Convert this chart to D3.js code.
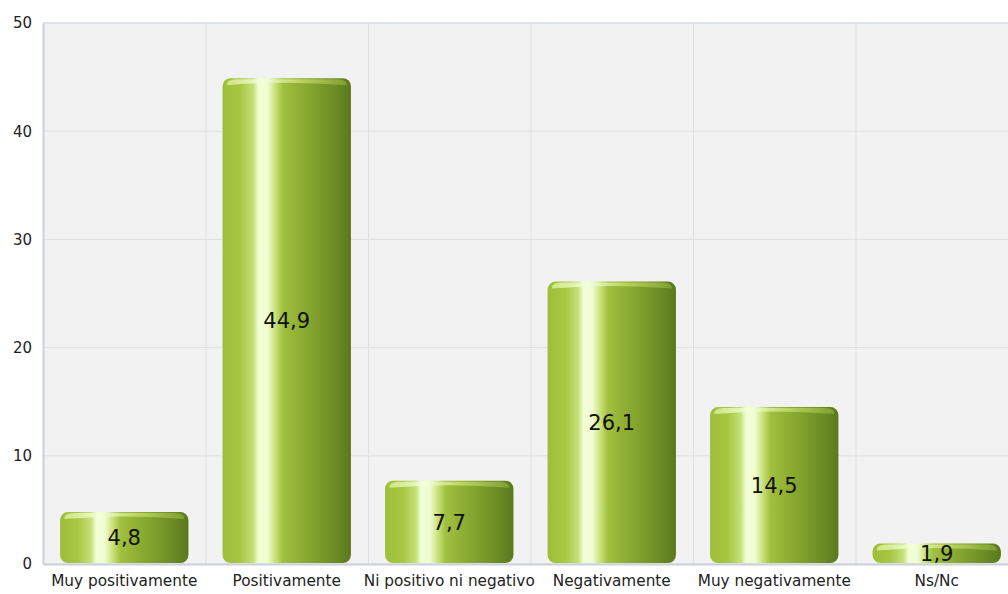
<!DOCTYPE html>
<html>
<head>
<meta charset="utf-8">
<script src="https://cdn.jsdelivr.net/npm/d3@7"></script>
<style>
  body { margin: 0; background: #fff; overflow: hidden; }
  text { font-family: "DejaVu Sans", Verdana, sans-serif; }
</style>
</head>
<body>
<svg id="draw"></svg>
<script>
// data
var categories = ["Muy positivamente", "Positivamente", "Ni positivo ni negativo", "Negativamente", "Muy negativamente", "Ns/Nc"];
var values = [4.8, 44.9, 7.7, 26.1, 14.5, 1.9];
var yTicks = [0, 10, 20, 30, 40, 50];

var margin = {top: 23, right: -10, bottom: 30, left: 43};
var width = 1008 - margin.left - margin.right;
var height = 594 - margin.top - margin.bottom;

var svg = d3.select("#draw")
  .attr("width", 1008)
  .attr("height", 594);

var defs = svg.append("defs");
var grad = defs.append("linearGradient").attr("id", "barGrad")
  .attr("x1", "0%").attr("x2", "100%").attr("y1", "0%").attr("y2", "0%");
[[0, "#9dbf38"], [0.14, "#a8c743"], [0.24, "#c6e07a"], [0.28, "#f2ffd6"], [0.35, "#f0fcd0"], [0.42, "#c4dc70"], [0.47, "#a2c040"], [0.65, "#88a930"], [0.85, "#6f8f26"], [1, "#5a791d"]]
  .forEach(function(s) {
    grad.append("stop").attr("offset", s[0]).attr("stop-color", s[1]);
  });

var capGrad = defs.append("linearGradient").attr("id", "capGrad")
  .attr("x1", "0%").attr("x2", "100%").attr("y1", "0%").attr("y2", "0%");
[[0, "#d6ec90"], [0.3, "#f6ffe0"], [0.6, "#c4dc6a"], [1, "#84a434"]]
  .forEach(function(s) {
    capGrad.append("stop").attr("offset", s[0]).attr("stop-color", s[1]);
  });

var g = svg.append("g")
  .attr("transform", "translate(" + margin.left + "," + margin.top + ")");

var xScale = d3.scaleBand()
  .domain(categories)
  .range([0, width])
  .paddingInner(0.21)
  .paddingOuter(0.105);

var yScale = d3.scaleLinear()
  .domain([0, 50])
  .range([height, 0]);

// plot background
g.append("rect")
  .attr("width", width)
  .attr("height", height)
  .attr("fill", "#f2f2f2");

// horizontal grid
g.selectAll(".hgrid")
  .data(yTicks)
  .enter().append("line")
  .attr("x1", 0).attr("x2", width)
  .attr("y1", function(d) { return yScale(d); })
  .attr("y2", function(d) { return yScale(d); })
  .attr("stroke", function(d) { return d == 50 ? "#dde1e8" : "#e0e0e0"; })
  .attr("stroke-width", function(d) { return d == 50 ? 2 : 1; });

// vertical grid between categories
var step = xScale.step();
g.selectAll(".vgrid")
  .data(categories.slice(1))
  .enter().append("line")
  .attr("x1", function(d) { return xScale(d) - step * 0.105 + 0.5; })
  .attr("x2", function(d) { return xScale(d) - step * 0.105 + 0.5; })
  .attr("y1", 0).attr("y2", height)
  .attr("stroke", "#e0e0e0");

// axes
var yAxis = g.append("g")
  .call(d3.axisLeft(yScale).tickValues(yTicks).tickSize(0).tickPadding(11));
yAxis.select(".domain").attr("stroke", "#c9d1dc").attr("stroke-width", 2);
yAxis.selectAll("text").attr("font-size", 15).attr("fill", "#222")
  .attr("font-family", "DejaVu Sans, Verdana, sans-serif");

var xAxis = g.append("g")
  .attr("transform", "translate(0," + height + ")")
  .call(d3.axisBottom(xScale).tickSize(0).tickPadding(11));
xAxis.select(".domain").attr("stroke", "#c9d1dc").attr("stroke-width", 2);
xAxis.selectAll("text").attr("font-size", 15.3).attr("fill", "#222")
  .attr("font-family", "DejaVu Sans, Verdana, sans-serif");

// bars
var bars = g.selectAll(".bar")
  .data(values)
  .enter().append("g")
  .attr("class", "bar");

bars.append("rect")
  .attr("x", function(d, i) { return xScale(categories[i]); })
  .attr("y", function(d) { return yScale(d); })
  .attr("width", xScale.bandwidth())
  .attr("height", function(d) { return height - yScale(d) - 1; })
  .attr("rx", 8).attr("ry", 8)
  .attr("fill", "url(#barGrad)");

// top highlight cap
bars.append("path")
  .attr("d", function(d, i) {
    var x0 = xScale(categories[i]) + 4;
    var w = xScale.bandwidth() - 8;
    var y0 = yScale(d) + 1;
    return "M" + x0 + "," + (y0 + 6) + " Q" + x0 + "," + y0 + " " + (x0 + 10) + "," + y0 +
      " L" + (x0 + w - 10) + "," + y0 + " Q" + (x0 + w) + "," + y0 + " " + (x0 + w) + "," + (y0 + 6) +
      " Q" + (x0 + w / 2) + "," + (y0 + 1) + " " + x0 + "," + (y0 + 6) + "Z";
  })
  .attr("fill", "url(#capGrad)")
  .attr("opacity", 0.85);

// value labels
bars.append("text")
  .attr("x", function(d, i) { return xScale(categories[i]) + xScale.bandwidth() / 2; })
  .attr("y", function(d) { return (yScale(d) + height) / 2; })
  .attr("dy", "0.35em")
  .attr("text-anchor", "middle")
  .attr("font-size", 21)
  .attr("fill", "#111")
  .text(function(d) { return String(d).replace(".", ","); });
</script>
</body>
</html>
